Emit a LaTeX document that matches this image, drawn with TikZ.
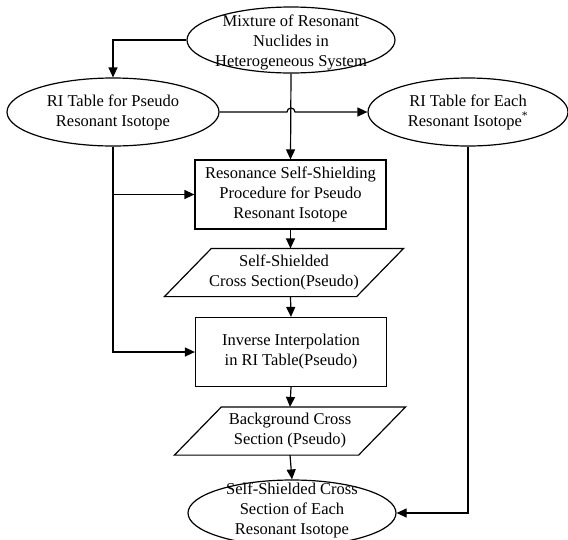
\documentclass[tikz,border=0pt]{standalone}
\usepackage{fontspec}
\setmainfont{Liberation Serif}
\usetikzlibrary{shapes.geometric,arrows.meta,positioning}
\tikzset{
  ellbox/.style={draw,ellipse,inner sep=0},
  lbl/.style={align=center,inner sep=0},
  procbox/.style={draw,rectangle,minimum width=191pt,minimum height=69pt,align=center,inner sep=0},
  databox/.style={rectangle,minimum height=47pt,align=center,inner sep=0}
}
% parallelogram round a data node, slanted by 47pt
\newcommand{\pgram}[1]{%
  \draw ([xshift=-23.5pt]#1.south west) -- ([xshift=23.5pt]#1.north west)
    -- ([xshift=23.5pt]#1.north east) -- ([xshift=-23.5pt]#1.south east) -- cycle;}

\begin{document}
\begin{tikzpicture}[x=1pt,y=-1pt,line width=1.2pt,>={Triangle[length=10pt,width=9pt]},
  font=\fontsize{16.5}{20}\selectfont]
  \useasboundingbox (0,0) rectangle (568,539);
  % inputs
  \node[ellbox,minimum width=208pt,minimum height=66pt] (mix) at (291,40) {};
  \node[lbl] (mixt) at (291,42) {Mixture of Resonant\\Nuclides in\\Heterogeneous System};
  \node[ellbox,minimum width=212pt,minimum height=68pt] (pseudo) at (113,112) {};
  \node[lbl] (pseudot) at (pseudo) {RI Table for Pseudo\\Resonant Isotope};
  \node[ellbox,minimum width=200pt,minimum height=68pt] (each) at (468,112) {};
  \node[lbl] (eacht) at (each) {RI Table for Each\\Resonant Isotope\textsuperscript{*}};
  % main chain
  \node[procbox] (proc) at (290.5,194.5) {Resonance Self-Shielding\\Procedure for Pseudo\\Resonant Isotope};
  \node[databox,minimum width=191pt] (cs1) at (284,272.5) {Self-Shielded\\Cross Section(Pseudo)};
  \pgram{cs1}
  \node[procbox] (inv) at (291,352) {Inverse Interpolation\\in RI Table(Pseudo)};
  \node[databox,minimum width=183pt] (bg) at (290,431) {Background Cross\\Section (Pseudo)};
  \pgram{bg}
  \node[ellbox,minimum width=208pt,minimum height=66pt] (out) at (292,513) {};
  \node[lbl] (outt) at (292,510) {Self-Shielded Cross\\Section of Each\\Resonant Isotope};
  % connectors
  \coordinate (hop) at (mix.south |- pseudo.east);
  \draw[->] (mix.west) -| (pseudo.north);
  \draw[->] (mix.south) -- (proc.north);
  \draw[->] (pseudo.east) -- ([xshift=-4pt]hop) arc[start angle=180,end angle=0,radius=4pt]
    -- (each.west);
  \draw[->] (pseudo.south) |- (proc.west);
  \draw[->] (pseudo.south) |- (inv.west);
  \draw[->] (proc.south) -- (proc.south |- cs1.north);
  \draw[->] (proc.south |- cs1.south) -- (inv.north);
  \draw[->] (inv.south) -- (bg.north);
  \draw[->] (bg.south) -- (out.north);
  \draw[->] (each.south) |- (out.east);
\end{tikzpicture}
\end{document}
